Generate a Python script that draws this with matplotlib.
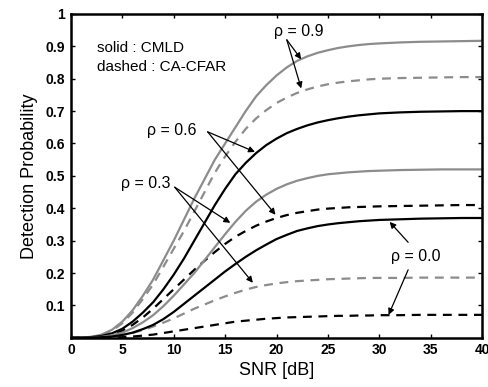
import numpy as np
import matplotlib.pyplot as plt

plt.rcParams['font.family'] = ['Liberation Sans', 'DejaVu Sans']

snr = list(range(0, 31)) + [32, 34, 36, 38, 40]

# CMLD (solid)
cmld_09 = [0, 0.001, 0.003, 0.01, 0.025, 0.05, 0.085, 0.13, 0.18, 0.24, 0.30, 0.365, 0.43, 0.49,
           0.55, 0.60, 0.65, 0.70, 0.745, 0.78, 0.81, 0.835, 0.855, 0.869, 0.88, 0.888, 0.895,
           0.90, 0.904, 0.907, 0.909, 0.912, 0.914, 0.915, 0.916, 0.917]
cmld_06 = [0, 0.001, 0.002, 0.006, 0.014, 0.028, 0.05, 0.078, 0.11, 0.15, 0.195, 0.245, 0.30, 0.355,
           0.41, 0.46, 0.505, 0.54, 0.57, 0.595, 0.615, 0.632, 0.645, 0.656, 0.665, 0.672, 0.678,
           0.683, 0.687, 0.69, 0.693, 0.696, 0.698, 0.699, 0.70, 0.70]
cmld_03 = [0, 0, 0.001, 0.003, 0.008, 0.016, 0.03, 0.048, 0.07, 0.098, 0.13, 0.165, 0.20, 0.24,
           0.28, 0.32, 0.358, 0.392, 0.42, 0.442, 0.46, 0.474, 0.485, 0.493, 0.50, 0.505, 0.508,
           0.511, 0.513, 0.515, 0.516, 0.518, 0.519, 0.52, 0.52, 0.52]
cmld_00 = [0, 0, 0.001, 0.002, 0.004, 0.009, 0.016, 0.027, 0.04, 0.058, 0.08, 0.105, 0.13, 0.155,
           0.18, 0.205, 0.228, 0.25, 0.27, 0.288, 0.305, 0.318, 0.33, 0.338, 0.345, 0.35, 0.354,
           0.357, 0.36, 0.362, 0.364, 0.366, 0.368, 0.369, 0.37, 0.37]

# CA-CFAR (dashed)
cfar_09 = [0, 0.001, 0.003, 0.01, 0.022, 0.045, 0.078, 0.12, 0.165, 0.22, 0.275, 0.33, 0.39, 0.45,
           0.51, 0.56, 0.605, 0.645, 0.677, 0.703, 0.725, 0.742, 0.756, 0.767, 0.776, 0.783, 0.788,
           0.792, 0.795, 0.798, 0.80, 0.802, 0.803, 0.804, 0.805, 0.805]
cfar_06 = [0, 0, 0.001, 0.004, 0.01, 0.022, 0.04, 0.063, 0.09, 0.12, 0.15, 0.18, 0.21, 0.238,
           0.265, 0.29, 0.312, 0.33, 0.346, 0.359, 0.37, 0.379, 0.386, 0.391, 0.396, 0.399, 0.401,
           0.403, 0.404, 0.405, 0.406, 0.407, 0.408, 0.409, 0.41, 0.41]
cfar_03 = [0, 0, 0.001, 0.002, 0.004, 0.008, 0.015, 0.024, 0.035, 0.047, 0.06, 0.075, 0.09, 0.103,
           0.116, 0.128, 0.139, 0.149, 0.157, 0.163, 0.168, 0.172, 0.175, 0.177, 0.179, 0.181, 0.182,
           0.183, 0.184, 0.185, 0.185, 0.185, 0.186, 0.186, 0.186, 0.186]
cfar_00 = [0, 0, 0, 0.001, 0.001, 0.002, 0.004, 0.007, 0.01, 0.015, 0.02, 0.025, 0.03, 0.035,
           0.04, 0.045, 0.05, 0.053, 0.056, 0.059, 0.061, 0.063, 0.064, 0.065, 0.066, 0.067, 0.068,
           0.068, 0.069, 0.069, 0.07, 0.07, 0.071, 0.071, 0.071, 0.071]

gray = '0.55'
dash = (0, (4, 3))

fig = plt.figure(figsize=(4.89, 3.87), dpi=100)
ax = fig.add_axes([0.145, 0.127, 0.841, 0.837])

ax.plot(snr, cmld_09, color=gray, lw=1.6)
ax.plot(snr, cfar_09, color=gray, lw=1.6, ls=dash)
ax.plot(snr, cmld_06, color='black', lw=1.6)
ax.plot(snr, cfar_06, color='black', lw=1.6, ls=dash)
ax.plot(snr, cmld_03, color=gray, lw=1.6)
ax.plot(snr, cfar_03, color=gray, lw=1.6, ls=dash)
ax.plot(snr, cmld_00, color='black', lw=1.6)
ax.plot(snr, cfar_00, color='black', lw=1.6, ls=dash)

ax.set_xlim(0, 40)
ax.set_ylim(0, 1)
ax.set_xticks(range(0, 41, 5))
ax.set_yticks([0.1, 0.2, 0.3, 0.4, 0.5, 0.6, 0.7, 0.8, 0.9, 1])
ax.set_yticklabels(['0.1', '0.2', '0.3', '0.4', '0.5', '0.6', '0.7', '0.8', '0.9', '1'])
ax.tick_params(direction='in', top=True, right=True, length=3, width=1, labelsize=10, pad=4)
for lab in ax.get_xticklabels() + ax.get_yticklabels():
    lab.set_fontweight('bold')
for s in ax.spines.values():
    s.set_linewidth(1.8)

ax.set_xlabel('SNR [dB]', fontsize=13, labelpad=3)
ax.set_ylabel('Detection Probability', fontsize=13, labelpad=6)

ax.text(2.5, 0.895, 'solid : CMLD', fontsize=11, va='center')
ax.text(2.5, 0.835, 'dashed : CA-CFAR', fontsize=11, va='center')

ap = dict(arrowstyle='-|>', color='black', lw=0.9, mutation_scale=9, shrinkA=0, shrinkB=0)

ax.text(22.2, 0.945, 'ρ = 0.9', fontsize=11.5, ha='center', va='center')
ax.annotate('', xy=(22.4, 0.86), xytext=(21.0, 0.92), arrowprops=ap)
ax.annotate('', xy=(22.4, 0.77), xytext=(21.0, 0.92), arrowprops=ap)

ax.text(9.8, 0.64, 'ρ = 0.6', fontsize=11.5, ha='center', va='center')
ax.annotate('', xy=(17.9, 0.574), xytext=(13.3, 0.636), arrowprops=ap)
ax.annotate('', xy=(19.9, 0.38), xytext=(13.3, 0.636), arrowprops=ap)

ax.text(7.3, 0.478, 'ρ = 0.3', fontsize=11.5, ha='center', va='center')
ax.annotate('', xy=(15.5, 0.355), xytext=(10.1, 0.465), arrowprops=ap)
ax.annotate('', xy=(17.7, 0.17), xytext=(10.1, 0.465), arrowprops=ap)

ax.text(33.5, 0.25, 'ρ = 0.0', fontsize=11.5, ha='center', va='center')
ax.annotate('', xy=(31.0, 0.358), xytext=(32.8, 0.295), arrowprops=ap)
ax.annotate('', xy=(30.9, 0.071), xytext=(32.8, 0.21), arrowprops=ap)

fig.savefig('out.png', dpi=100)
